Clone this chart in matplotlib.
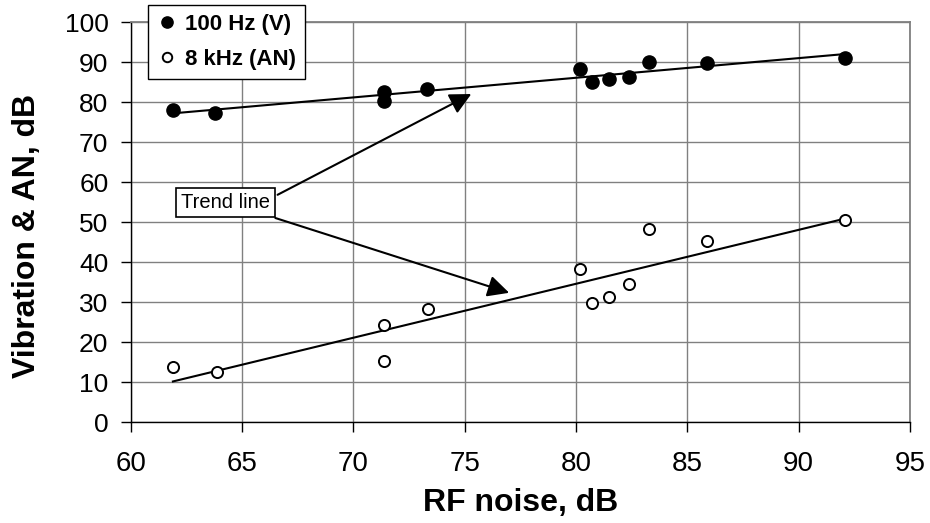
import numpy as np
import matplotlib
matplotlib.use("Agg")
import matplotlib.pyplot as plt

plt.rcParams['font.family'] = ['Liberation Sans', 'DejaVu Sans']

# Data
v_x = [61.9, 63.8, 71.4, 71.4, 73.3, 80.2, 80.7, 81.5, 82.4, 83.3, 85.9, 92.1]
v_y = [78.0, 77.2, 82.5, 80.2, 83.2, 88.2, 85.0, 85.7, 86.2, 90.0, 89.7, 91.0]
an_x = [61.9, 63.9, 71.4, 71.4, 73.35, 80.2, 80.7, 81.5, 82.4, 83.3, 85.9, 92.1]
an_y = [13.8, 12.5, 24.2, 15.2, 28.2, 38.2, 29.7, 31.3, 34.5, 48.2, 45.2, 50.5]
xticks = [60, 65, 70, 75, 80, 85, 90, 95]
yticks = [0, 10, 20, 30, 40, 50, 60, 70, 80, 90, 100]
series_labels = ["100 Hz (V)", "8 kHz (AN)"]

fig = plt.figure(figsize=(9.3, 5.23), dpi=100)
ax = fig.add_axes([130.6/930, 1-422/523, (910-130.6)/930, 400/523])

ax.set_xlim(60, 95)
ax.set_ylim(0, 100)
ax.set_xticks(xticks)
ax.set_yticks(yticks)
ax.grid(True, color='#808080', linewidth=1.0)
ax.set_axisbelow(True)
for s in ['top', 'right']:
    ax.spines[s].set_color('#808080')
    ax.spines[s].set_linewidth(1.3)
for s in ['left', 'bottom']:
    ax.spines[s].set_color('black')
    ax.spines[s].set_linewidth(1.0)
ax.tick_params(direction='out', length=7, width=1, colors='black')
ax.tick_params(axis='x', labelsize=20, pad=14)
ax.tick_params(axis='y', labelsize=19, pad=9)

# trend lines
for xs, ys in [(v_x, v_y), (an_x, an_y)]:
    k, b = np.polyfit(xs, ys, 1)
    xx = np.array([min(xs), max(xs)])
    ax.plot(xx, k*xx + b, color='black', linewidth=1.5, zorder=3)

h1, = ax.plot(v_x, v_y, 'o', color='black', markersize=9.5, zorder=4, label=series_labels[0])
h2, = ax.plot(an_x, an_y, 'o', markerfacecolor='white', markeredgecolor='black',
              markeredgewidth=1.4, markersize=8, zorder=4, label=series_labels[1])

leg = fig.legend(handles=[h1, h2], loc='upper left', bbox_to_anchor=(148/930, 1-5/523),
                 frameon=True, fancybox=False, edgecolor='black', framealpha=1,
                 prop={'weight': 'bold', 'size': 16}, handletextpad=0.35,
                 handlelength=0.9, borderpad=0.4, labelspacing=0.62, markerscale=0.85,
                 borderaxespad=0)
leg.get_frame().set_linewidth(1.0)

# annotation box
ax.text(64.25, 54.8, "Trend line", fontsize=14.5, ha='center', va='center', zorder=6,
        bbox=dict(boxstyle='square,pad=0.25', facecolor='white', edgecolor='black', linewidth=1.2))
ax.annotate("", xy=(75.3, 82.0), xytext=(66.6, 56.8),
            arrowprops=dict(arrowstyle='-|>,head_length=1.3,head_width=0.65', color='black',
                            linewidth=1.5, shrinkA=0, shrinkB=0), zorder=5)
ax.annotate("", xy=(77.0, 32.3), xytext=(66.5, 51.0),
            arrowprops=dict(arrowstyle='-|>,head_length=1.3,head_width=0.65', color='black',
                            linewidth=1.5, shrinkA=0, shrinkB=0), zorder=5)

ax.set_xlabel("RF noise, dB", fontsize=23, fontweight='bold', labelpad=8)
ax.set_ylabel("Vibration & AN, dB", fontsize=23, fontweight='bold')
ax.yaxis.set_label_coords(-0.114, 0.465)

fig.savefig("out.png", dpi=100)
